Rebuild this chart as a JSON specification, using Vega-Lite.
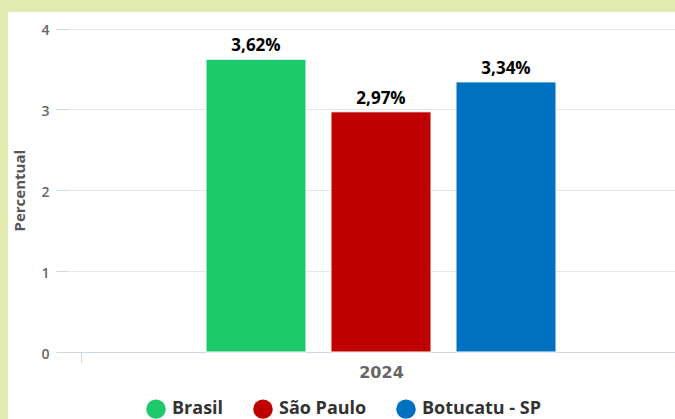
{
  "$schema": "https://vega.github.io/schema/vega-lite/v6.json",
  "width": 667,
  "height": 407,
  "autosize": {"type": "none"},
  "padding": {"left": 8, "top": 12, "right": 0, "bottom": 0},
  "background": "#e2ecb0",
  "config": {
    "view": {"fill": "white", "stroke": null},
    "font": "Open Sans"
  },
  "data": {
    "values": [
      {"ano": "2024", "local": "Brasil", "valor": 3.62, "rotulo": "3,62%"},
      {"ano": "2024", "local": "São Paulo", "valor": 2.97, "rotulo": "2,97%"},
      {"ano": "2024", "local": "Botucatu - SP", "valor": 3.34, "rotulo": "3,34%"}
    ]
  },
  "encoding": {
    "x": {
      "field": "ano",
      "type": "nominal",
      "scale": {"range": [59, 687], "paddingInner": 0, "paddingOuter": 0.0233},
      "axis": {
        "orient": "bottom",
        "offset": -67,
        "title": null,
        "labelAngle": 0,
        "domainColor": "#ccd6eb",
        "ticks": true,
        "tickBand": "extent",
        "tickSize": 10,
        "tickColor": "#ccd6eb",
        "labelPadding": 2,
        "labelFont": "DejaVu Sans",
        "labelFontSize": 16,
        "labelFontWeight": "bold",
        "labelColor": "#666666",
        "grid": false
      }
    },
    "xOffset": {
      "field": "local",
      "type": "nominal",
      "sort": ["Brasil", "São Paulo", "Botucatu - SP"],
      "scale": {"paddingInner": 0.2, "paddingOuter": 1}
    },
    "y": {
      "field": "valor",
      "type": "quantitative",
      "scale": {"domain": [0, 4], "range": [340, 16.5], "nice": false},
      "axis": {
        "orient": "left",
        "offset": -59,
        "values": [0, 1, 2, 3, 4],
        "domain": false,
        "ticks": true,
        "tickSize": 11,
        "tickColor": "#ccd6eb",
        "grid": true,
        "gridColor": "#e6e6e6",
        "labelPadding": 7,
        "labelOffset": 2,
        "labelFontSize": 14,
        "labelFontWeight": 600,
        "labelColor": "#666666",
        "title": "Percentual",
        "titleFontSize": 15,
        "titleFontWeight": "bold",
        "titleColor": "#555555",
        "titlePadding": 13
      }
    }
  },
  "layer": [
    {
      "mark": {"type": "bar", "stroke": "white", "strokeWidth": 1},
      "encoding": {
        "color": {
          "field": "local",
          "type": "nominal",
          "sort": ["Brasil", "São Paulo", "Botucatu - SP"],
          "scale": {
            "domain": ["Brasil", "São Paulo", "Botucatu - SP"],
            "range": ["#1ec96b", "#c00000", "#0070c0"]
          },
          "legend": {
            "orient": "none",
            "legendX": 138,
            "legendY": 387,
            "direction": "horizontal",
            "title": null,
            "symbolType": "circle",
            "symbolSize": 380,
            "symbolStrokeWidth": 0,
            "labelFontSize": 18,
            "labelFontWeight": "bold",
            "labelColor": "#333333",
            "labelOffset": 6,
            "columnPadding": 29,
            "labelLimit": 300,
            "padding": 0
          }
        }
      }
    },
    {
      "mark": {"type": "text", "baseline": "alphabetic", "dy": -8, "fontSize": 17, "fontWeight": "bold", "color": "#000000"},
      "encoding": {"text": {"field": "rotulo"}}
    }
  ]
}
